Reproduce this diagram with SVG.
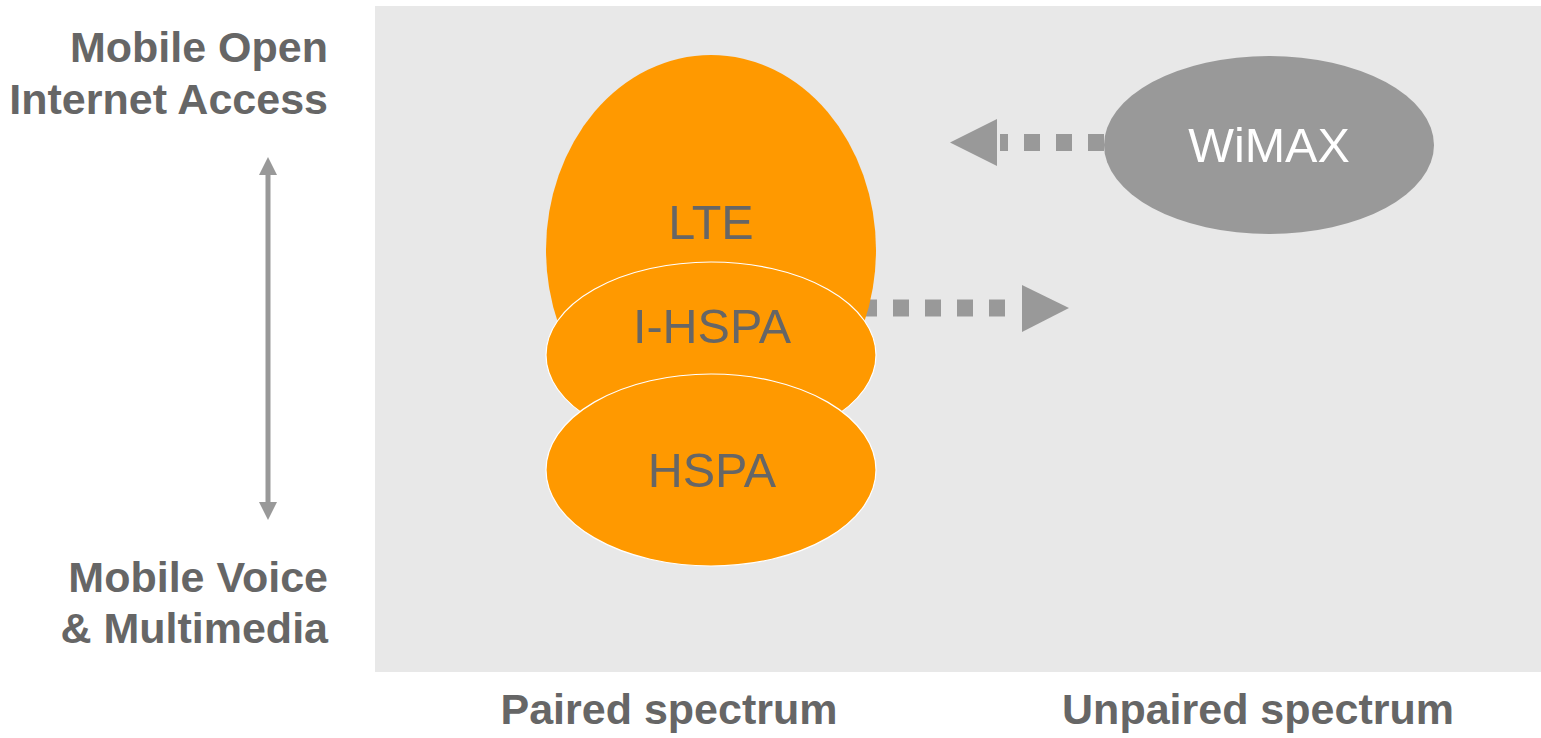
<svg xmlns="http://www.w3.org/2000/svg" width="1541" height="738" viewBox="0 0 1541 738">
  <defs>
    <style>
      .panel { fill: #e8e8e8; }
      .tech { fill: #ff9900; }
      .layer { fill: #ff9900; stroke: #ffffff; stroke-width: 1.2; }
      .alt { fill: #999999; }
      .axis-label { font-family: "Liberation Sans", Arial, sans-serif; font-weight: bold; font-size: 43px; fill: #666666; }
      .node-label { font-family: "Liberation Sans", Arial, sans-serif; font-size: 48.5px; fill: #666666; text-anchor: middle; }
      .node-label.light { fill: #ffffff; }
      .dots { stroke: #999999; stroke-width: 17; stroke-dasharray: 16 16; fill: none; }
      .head { fill: #999999; }
    </style>
  </defs>

  <!-- background panel -->
  <rect class="panel" x="375" y="6" width="1166" height="666"/>

  <!-- axis labels -->
  <g id="labels">
    <text class="axis-label" x="328" y="62" text-anchor="end">Mobile Open</text>
    <text class="axis-label" x="328" y="114" text-anchor="end">Internet Access</text>
    <text class="axis-label" x="328" y="592" text-anchor="end">Mobile Voice</text>
    <text class="axis-label" x="328" y="643" text-anchor="end">&amp; Multimedia</text>
    <text class="axis-label" x="669" y="724" text-anchor="middle">Paired spectrum</text>
    <text class="axis-label" x="1258" y="724" text-anchor="middle">Unpaired spectrum</text>
  </g>

  <!-- connectors -->
  <g id="connectors">
    <!-- vertical scale arrow -->
    <line x1="268" y1="170" x2="268" y2="507" stroke="#999999" stroke-width="5"/>
    <polygon class="head" points="268,157 259,175 277,175"/>
    <polygon class="head" points="268,520 259,502 277,502"/>
    <!-- WiMAX towards paired side -->
    <line class="dots" x1="1104" y1="142.5" x2="1000" y2="142.5"/>
    <polygon class="head" points="997,119 997,166 950,142.5"/>
    <!-- I-HSPA towards unpaired side -->
    <line class="dots" x1="861" y1="308" x2="1021" y2="308"/>
    <polygon class="head" points="1022,285 1022,332 1069,308"/>
  </g>

  <!-- technology nodes -->
  <g id="lte">
    <ellipse class="tech" cx="711" cy="250" rx="165" ry="195"/>
    <text class="node-label" x="711" y="239">LTE</text>
  </g>
  <g id="i-hspa">
    <ellipse class="layer" cx="711" cy="355" rx="165" ry="93"/>
    <text class="node-label" x="712" y="343">I-HSPA</text>
  </g>
  <g id="hspa">
    <ellipse class="layer" cx="711" cy="470" rx="165" ry="96"/>
    <text class="node-label" x="712" y="487">HSPA</text>
  </g>
  <g id="wimax">
    <ellipse class="alt" cx="1269" cy="145" rx="165" ry="89"/>
    <text class="node-label light" x="1269" y="162">WiMAX</text>
  </g>
</svg>
